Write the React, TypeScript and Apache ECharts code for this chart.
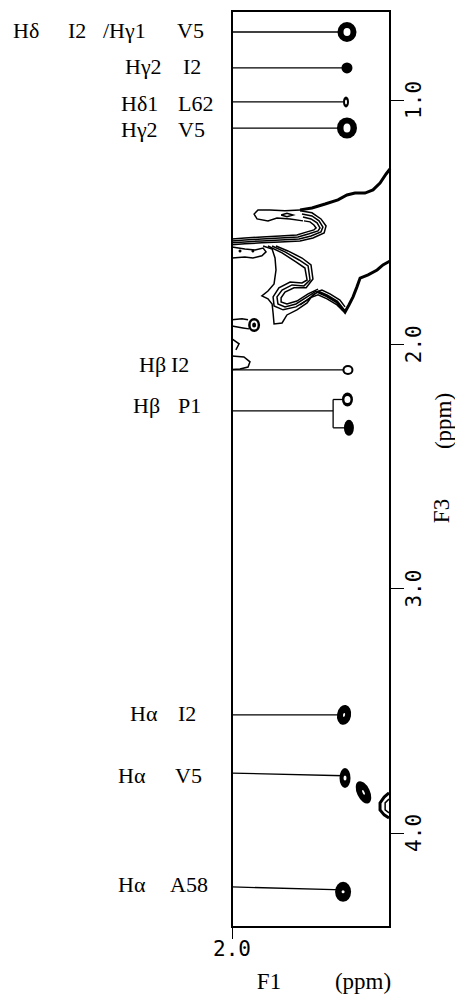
import React, { useEffect, useRef } from 'react';
import * as echarts from 'echarts';

// ---- axes (ppm) ----
const f1Range = [1.35, 2.0];
const f3Range = [0.636, 4.385];
const f1TickValues = [2.0];
const f3TickValues = [1, 2, 3, 4];

// ---- assignment labels ----
const labelParts: string[][] = [
  ['Hδ', 'I2', '/Hγ1', 'V5'],
  ['Hγ2', 'I2'],
  ['Hδ1', 'L62'],
  ['Hγ2', 'V5'],
  ['Hβ', 'I2'],
  ['Hβ', 'P1'],
  ['Hα', 'I2'],
  ['Hα', 'V5'],
  ['Hα', 'A58'],
];
const labelF3 = [0.716, 0.863, 1.016, 1.121, 2.081, 2.252, 3.511, 3.763, 4.211];

// ---- leader lines [F1, F3] ----
const leaderLines: number[][][] = [
  [[2.0, 0.722], [1.527, 0.722]],
  [[2.0, 0.869], [1.527, 0.869]],
  [[2.0, 1.008], [1.543, 1.008]],
  [[2.0, 1.115], [1.527, 1.115]],
  [[2.0, 2.105], [1.543, 2.105]],
  [[2.0, 2.273], [1.584, 2.273]],
  [[1.584, 2.226], [1.584, 2.342]],
  [[1.584, 2.226], [1.525, 2.226]],
  [[1.584, 2.342], [1.519, 2.342]],
  [[2.0, 3.517], [1.539, 3.517]],
  [[2.0, 3.755], [1.539, 3.766]],
  [[2.0, 4.221], [1.543, 4.233]],
];

// ---- cross peaks [F1, F3] ----
const peakPoints = [
  [1.527, 0.722], [1.527, 0.869], [1.531, 1.008], [1.527, 1.115],
  [1.523, 2.105], [1.525, 2.226], [1.519, 2.342],
  [1.539, 3.517], [1.535, 3.775], [1.459, 3.834], [1.543, 4.241],
  [1.909, 1.921],
];
const corePoints = [[1.909, 1.921]];
const speckPoints = [[1.967, 1.618], [1.914, 1.618]];

// ---- contour traces [F1, F3] ----
const contourHeavy: number[][][] = [
  [[1.35, 1.282], [1.366, 1.303], [1.391, 1.34], [1.42, 1.368], [1.453, 1.381], [1.494, 1.381], [1.527, 1.389], [1.564, 1.409], [1.617, 1.426], [1.671, 1.442], [1.72, 1.45]],
  [[1.646, 1.786], [1.609, 1.802], [1.568, 1.827], [1.535, 1.868], [1.519, 1.839], [1.502, 1.806], [1.486, 1.765], [1.473, 1.729], [1.44, 1.716], [1.403, 1.696], [1.379, 1.675], [1.35, 1.659]],
  [[1.354, 3.836], [1.374, 3.853], [1.391, 3.877], [1.391, 3.906], [1.374, 3.926], [1.354, 3.939]],
];
const contourLight: number[][][] = [
  [[1.72, 1.45], [1.782, 1.454], [1.844, 1.45], [1.893, 1.45], [1.909, 1.467], [1.897, 1.487], [1.852, 1.495], [1.815, 1.483], [1.761, 1.487], [1.708, 1.495]],
  [[1.798, 1.471], [1.774, 1.464], [1.749, 1.471], [1.774, 1.478], [1.798, 1.471]],
  [[1.72, 1.454], [1.671, 1.462], [1.634, 1.487], [1.613, 1.516], [1.621, 1.544], [1.667, 1.565], [1.72, 1.577], [1.802, 1.581], [1.877, 1.585], [1.947, 1.589], [2.0, 1.593]],
  [[1.712, 1.467], [1.671, 1.475], [1.642, 1.495], [1.626, 1.52], [1.634, 1.54], [1.675, 1.557], [1.724, 1.569], [1.802, 1.573], [1.877, 1.577], [1.947, 1.581], [2.0, 1.585]],
  [[1.708, 1.479], [1.675, 1.487], [1.65, 1.503], [1.638, 1.524], [1.646, 1.536], [1.683, 1.548], [1.728, 1.561], [1.802, 1.565], [1.877, 1.569], [1.947, 1.573], [2.0, 1.577]],
  [[1.704, 1.495], [1.679, 1.499], [1.663, 1.512], [1.654, 1.524], [1.663, 1.532], [1.691, 1.54], [1.733, 1.553], [1.802, 1.557], [1.877, 1.561], [1.947, 1.565], [2.0, 1.569]],
  [[2.0, 1.602], [1.947, 1.61], [1.905, 1.614], [1.872, 1.606], [1.86, 1.622], [1.877, 1.638], [1.914, 1.647], [1.947, 1.643], [2.0, 1.647]],
  [[1.872, 1.598], [1.835, 1.61], [1.823, 1.647], [1.819, 1.696], [1.827, 1.753], [1.852, 1.782], [1.877, 1.802], [1.852, 1.814], [1.835, 1.835], [1.831, 1.872], [1.827, 1.917], [1.794, 1.913], [1.774, 1.88], [1.733, 1.859], [1.691, 1.831], [1.667, 1.798], [1.646, 1.786]],
  [[1.852, 1.598], [1.794, 1.626], [1.737, 1.663], [1.7, 1.688], [1.691, 1.737], [1.712, 1.749], [1.761, 1.745], [1.807, 1.769], [1.831, 1.806], [1.827, 1.843], [1.79, 1.859], [1.737, 1.847], [1.691, 1.819], [1.658, 1.794]],
  [[1.835, 1.598], [1.782, 1.622], [1.724, 1.655], [1.687, 1.679], [1.679, 1.737], [1.704, 1.761], [1.753, 1.757], [1.794, 1.778], [1.815, 1.806], [1.811, 1.835], [1.782, 1.847], [1.737, 1.835], [1.691, 1.806], [1.654, 1.782]],
  [[1.819, 1.598], [1.77, 1.618], [1.712, 1.647], [1.675, 1.675], [1.667, 1.733], [1.695, 1.769], [1.745, 1.769], [1.782, 1.786], [1.798, 1.81], [1.798, 1.827], [1.774, 1.835], [1.733, 1.823], [1.687, 1.794], [1.646, 1.774]],
  [[1.72, 1.839], [1.679, 1.81], [1.646, 1.798], [1.609, 1.814], [1.568, 1.839], [1.543, 1.864]],
  [[1.654, 1.786], [1.63, 1.778], [1.597, 1.794], [1.556, 1.819], [1.535, 1.847]],
  [[2.0, 1.9], [1.959, 1.896], [1.934, 1.9]],
  [[2.0, 1.925], [1.955, 1.933], [1.93, 1.937]],
  [[2.0, 1.978], [1.971, 1.998], [1.984, 2.023]],
  [[2.0, 2.048], [1.951, 2.052], [1.926, 2.072], [1.934, 2.093], [1.967, 2.101], [2.0, 2.103]],
  [[1.354, 3.861], [1.37, 3.877], [1.37, 3.906], [1.354, 3.918]],
];

// ---- appearance (layout, not data) ----
const peakOuterSize = [[19, 20], [11, 11], [6, 11], [20, 21], [11, 10], [11, 14], [10, 16], [14, 20], [11, 20], [13, 24], [16, 20], [12, 14]];
const peakHoleSize: (number[] | null)[] = [[7, 8], null, [2, 5], [7, 9], [7, 6], [6, 7], null, [2, 4], [3, 5], [2, 5], [3, 3], [7, 9]];
const peakRotate = [0, 0, 0, 0, 0, 0, 0, -10, 0, 25, 0, 0];
const labelPartX: number[][] = [
  [13, 68, 103, 177],
  [125, 183],
  [121, 178],
  [121, 178],
  [139, 171],
  [133, 178],
  [130, 178],
  [118, 175],
  [118, 170],
];

const ELLIPSE = 'path://M0,10A10,10,0,1,1,20,10A10,10,0,1,1,0,10Z';
const SERIF = '"Liberation Serif", "Times New Roman", serif';
const MONO = '"DejaVu Sans Mono", monospace';

export default function App() {
  const ref = useRef<HTMLDivElement>(null);
  useEffect(() => {
    document.body.style.margin = '0';
    const chart = echarts.init(ref.current!, null, { renderer: 'svg' });
    const lineSeries = (data: number[][][], width: number) => ({
      type: 'lines',
      coordinateSystem: 'cartesian2d',
      polyline: true,
      silent: true,
      clip: true,
      lineStyle: { color: '#000', width, opacity: 1 },
      data: data.map((c) => ({ coords: c })),
    });
    chart.setOption({
      animation: false,
      backgroundColor: '#fff',
      grid: { left: 232, right: 65, top: 11, bottom: 70, show: true, borderColor: '#000', borderWidth: 2, backgroundColor: 'transparent' },
      xAxis: {
        type: 'value', min: f1Range[0], max: f1Range[1], inverse: true, position: 'bottom',
        axisLine: { show: false, onZero: false },
        axisTick: { show: true, length: 12, customValues: f1TickValues, lineStyle: { color: '#000', width: 1 } },
        axisLabel: { customValues: f1TickValues, formatter: (v: number) => v.toFixed(1), fontFamily: MONO, fontSize: 21, color: '#000', margin: 11 },
        splitLine: { show: false },
      },
      yAxis: {
        type: 'value', min: f3Range[0], max: f3Range[1], inverse: true, position: 'right',
        axisLine: { show: false, onZero: false },
        axisTick: { show: true, length: 14, customValues: f3TickValues, lineStyle: { color: '#000', width: 1 } },
        axisLabel: { customValues: f3TickValues, rotate: 90, formatter: (v: number) => v.toFixed(1), fontFamily: MONO, fontSize: 21, color: '#000', margin: 13 },
        splitLine: { show: false },
      },
      series: [
        lineSeries(contourLight, 1.5),
        lineSeries(contourHeavy, 3),
        lineSeries(leaderLines, 1.3),
        {
          type: 'scatter', silent: true, symbol: ELLIPSE,
          itemStyle: { color: '#000', opacity: 1 },
          data: peakPoints.map((p, i) => ({ value: p, symbolSize: peakOuterSize[i], symbolRotate: peakRotate[i] })),
          z: 5,
        },
        {
          type: 'scatter', silent: true, symbol: ELLIPSE,
          itemStyle: { color: '#fff', opacity: 1 },
          data: peakPoints
            .map((p, i) => ({ value: p, symbolSize: peakHoleSize[i] || [0, 0], symbolRotate: peakRotate[i] }))
            .filter((_, i) => peakHoleSize[i]),
          z: 6,
        },
        {
          type: 'scatter', silent: true, symbol: ELLIPSE, symbolSize: [4, 5],
          itemStyle: { color: '#000', opacity: 1 }, data: corePoints, z: 7,
        },
        {
          type: 'scatter', silent: true, symbol: 'circle', symbolSize: 3,
          itemStyle: { color: '#000', opacity: 1 }, data: speckPoints, z: 7,
        },
      ],
    });

    const graphics: any[] = [];
    labelParts.forEach((parts, i) => {
      const py = chart.convertToPixel({ yAxisIndex: 0 }, labelF3[i]) as number;
      parts.forEach((t, j) => {
        graphics.push({
          type: 'text', x: labelPartX[i][j], y: py,
          style: { text: t, fontFamily: SERIF, fontSize: 22, fill: '#000', align: 'left', verticalAlign: 'middle', textAlign: 'left', textVerticalAlign: 'middle' },
        });
      });
    });
    const axisTitle = (t: string, x: number, y: number, rot: number) => ({
      type: 'text', x, y, rotation: rot,
      style: { text: t, fontFamily: SERIF, fontSize: 23, fill: '#000', align: 'center', verticalAlign: 'middle', textAlign: 'center', textVerticalAlign: 'middle' },
    });
    graphics.push(axisTitle('F3', 441, 511, Math.PI / 2));
    graphics.push(axisTitle('(ppm)', 443, 421, Math.PI / 2));
    graphics.push(axisTitle('F1', 269, 981, 0));
    graphics.push(axisTitle('(ppm)', 363, 981, 0));
    chart.setOption({ graphic: graphics });

    return () => chart.dispose();
  }, []);
  return <div ref={ref} style={{ width: 455, height: 997 }} />;
}
